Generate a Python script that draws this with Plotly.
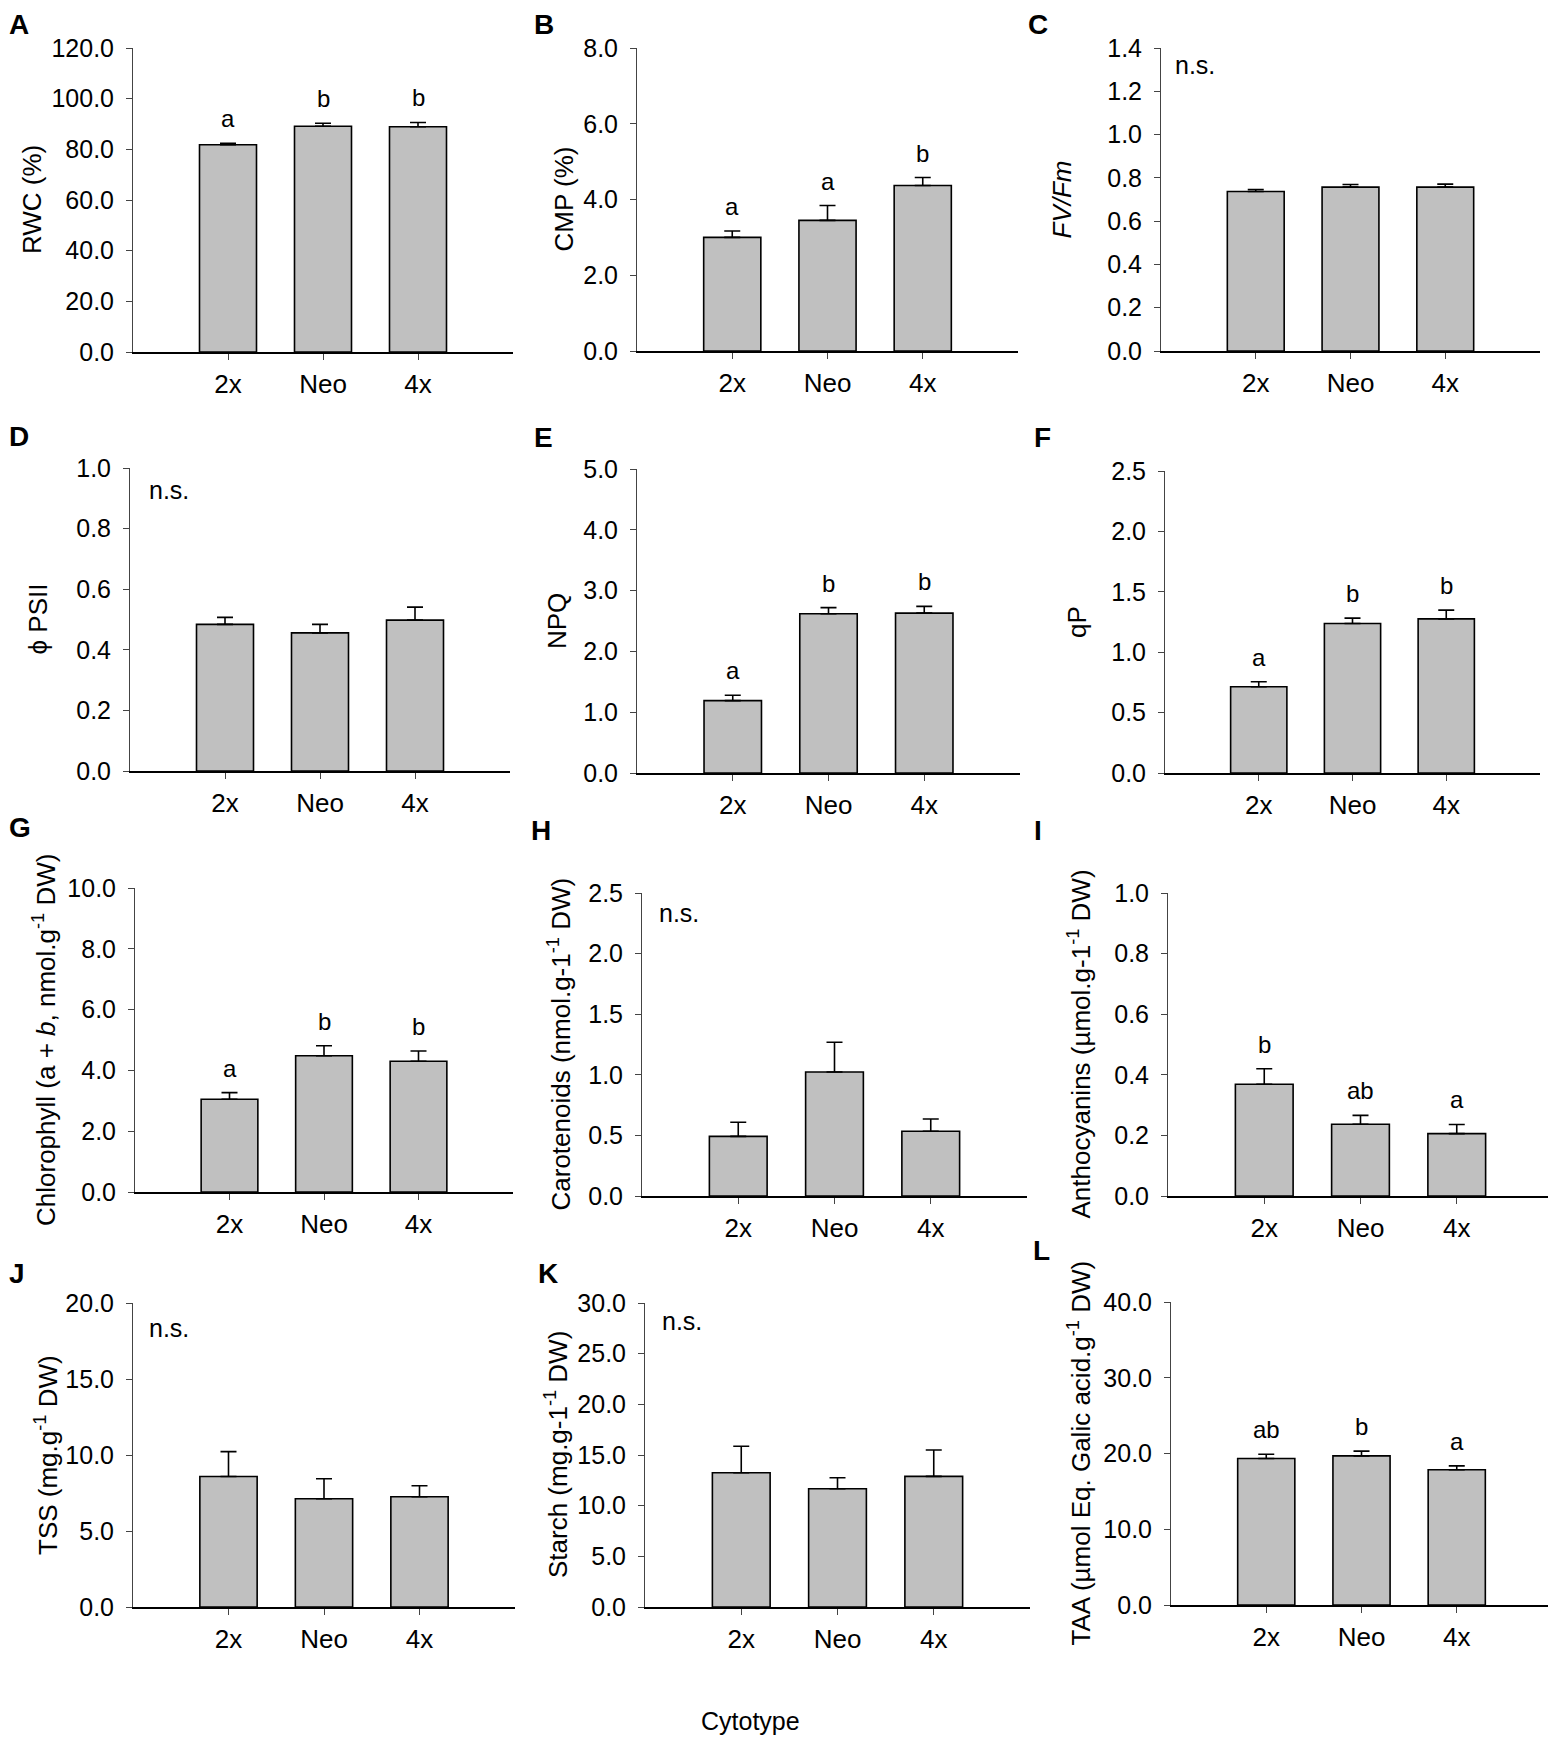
import plotly.graph_objects as go

# page is 1556 x 1738, the page body adds an 8 px margin round the figure
PAGE_OFF = 8
W, H = 1548, 1730

cytotypes = ["2x", "Neo", "4x"]

rwc = [81.8, 89.1, 88.9]
rwc_se = [0.6, 1.2, 1.7]
cmp_ = [3.00, 3.45, 4.37]
cmp_se = [0.17, 0.39, 0.21]
fvfm = [0.737, 0.757, 0.757]
fvfm_se = [0.009, 0.012, 0.014]
phipsii = [0.484, 0.456, 0.498]
phipsii_se = [0.023, 0.028, 0.043]
npq = [1.19, 2.62, 2.63]
npq_se = [0.09, 0.10, 0.11]
qp = [0.714, 1.238, 1.276]
qp_se = [0.041, 0.044, 0.072]
chl = [3.05, 4.48, 4.30]
chl_se = [0.22, 0.33, 0.34]
carot = [0.492, 1.023, 0.534]
carot_se = [0.116, 0.245, 0.101]
antho = [0.369, 0.237, 0.206]
antho_se = [0.051, 0.029, 0.030]
tss = [8.59, 7.12, 7.25]
tss_se = [1.63, 1.32, 0.73]
starch = [13.25, 11.67, 12.89]
starch_se = [2.61, 1.09, 2.61]
taa = [19.34, 19.69, 17.85]
taa_se = [0.57, 0.62, 0.52]

NORMAL = "Liberation Sans, Arial"


def px(x):
    return max(x - PAGE_OFF, 0) / W


def py(y):
    return min(1 - (y - PAGE_OFF) / H, 1)


# letter, values, errors, y max, y step, title, sig letters, title x, box (x0, x1, top, bottom) in page px
panels = [
    ("A", rwc, rwc_se, 120, 20, "RWC (%)", ["a", "b", "b"], 32, (133, 513, 48, 352)),
    ("B", cmp_, cmp_se, 8, 2, "CMP (%)", ["a", "a", "b"], 563, (637, 1018, 48, 351)),
    ("C", fvfm, fvfm_se, 1.4, 0.2, "<i>FV/Fm</i>", None, 1061, (1161, 1540, 48, 351)),
    ("D", phipsii, phipsii_se, 1.0, 0.2, "ϕ PSII", None, 37, (130, 510, 468, 771)),
    ("E", npq, npq_se, 5, 1, "NPQ", ["a", "b", "b"], 557, (637, 1020, 469, 773)),
    ("F", qp, qp_se, 2.5, 0.5, "qP", ["a", "b", "b"], 1077, (1165, 1540, 471, 773)),
    ("G", chl, chl_se, 10, 2, "Chlorophyll (a + <i>b</i>, nmol.g<sup>-1</sup> DW)", ["a", "b", "b"], 44,
     (135, 513, 888, 1192)),
    ("H", carot, carot_se, 2.5, 0.5, "Carotenoids (nmol.g-1<sup>-1</sup> DW)", None, 560,
     (642, 1027, 893, 1196)),
    ("I", antho, antho_se, 1.0, 0.2, "Anthocyanins (µmol.g-1<sup>-1</sup> DW)", ["b", "ab", "a"], 1080,
     (1168, 1553, 893, 1196)),
    ("J", tss, tss_se, 20, 5, "TSS (mg.g<sup>-1</sup> DW)", None, 46, (133, 515, 1303, 1607)),
    ("K", starch, starch_se, 30, 5, "Starch (mg.g-1<sup>-1</sup> DW)", None, 556, (645, 1030, 1303, 1607)),
    ("L", taa, taa_se, 40, 10, "TAA (µmol Eq. Galic acid.g<sup>-1</sup> DW)", ["ab", "b", "a"], 1080,
     (1171, 1552, 1302, 1605)),
]

# panel letters: left edge and glyph centre, page px (None = pin to the top edge)
letter_pos = {
    "A": (0, None), "B": (533, None), "C": (1027, None),
    "D": (0, 436), "E": (533, 437), "F": (1033, 437),
    "G": (0, 827), "H": (530, 831), "I": (1033, 831),
    "J": (0, 1273), "K": (537, 1273), "L": (1032, 1250),
}

# n.s. label offsets from the axes corner (px right, px down to text centre)
ns_pos = {"C": (12, 17), "D": (17, 22), "H": (15, 20), "J": (14, 25), "K": (15, 18)}

fig = go.Figure()
annotations = []

for i, (lab, vals, errs, ymax, step, title, sig, tx, box) in enumerate(panels):
    n = i + 1
    xa = "x" if n == 1 else f"x{n}"
    ya = "y" if n == 1 else f"y{n}"
    x0, x1, top, bot = box

    fig.add_trace(go.Bar(
        x=cytotypes, y=vals, xaxis=xa, yaxis=ya, width=0.6,
        marker=dict(color="#c0c0c0", line=dict(color="black", width=1.6)),
        error_y=dict(type="data", array=errs, symmetric=False, arrayminus=[0, 0, 0],
                     color="black", thickness=1.6, width=8),
        showlegend=False,
    ))

    fig.layout[f"xaxis{n if n > 1 else ''}"] = dict(
        domain=[px(x0), min(px(x1), 1)], anchor=ya, type="category", range=[-1, 3],
        showline=True, linecolor="black", linewidth=2, ticks="outside", ticklen=6,
        tickcolor="#444", tickwidth=1, ticklabelstandoff=2, showgrid=False, zeroline=False,
        tickfont=dict(family=NORMAL, size=26, color="black"), automargin=False,
    )
    fig.layout[f"yaxis{n if n > 1 else ''}"] = dict(
        domain=[py(bot), py(top)], anchor=xa, range=[0, ymax],
        tick0=0, dtick=step, tickformat=".1f",
        showline=True, linecolor="#444", linewidth=1, ticks="outside", ticklen=6,
        tickcolor="#444", tickwidth=1, ticklabelstandoff=7, showgrid=False, zeroline=False,
        tickfont=dict(family=NORMAL, size=25, color="black"), automargin=False,
    )

    # y-axis title
    annotations.append(dict(
        text=title, xref="paper", yref="paper", x=px(tx), y=py((top + bot) / 2),
        xanchor="center", yanchor="middle", textangle=-90, showarrow=False,
        font=dict(family=NORMAL, size=26, color="black"),
    ))

    # panel letter
    lx, ly = letter_pos[lab]
    annotations.append(dict(
        text=f"<b>{lab}</b>", xref="paper", yref="paper", x=px(lx),
        y=1 if ly is None else py(ly),
        xanchor="left", yanchor="top" if ly is None else "middle",
        showarrow=False, borderpad=0,
        font=dict(family=NORMAL, size=28, color="black"),
    ))

    if sig is None:
        dx, dy = ns_pos[lab]
        annotations.append(dict(
            text="n.s.", xref="paper", yref="paper",
            x=px(x0 + dx), y=py(top + dy), xanchor="left", yanchor="middle",
            showarrow=False, font=dict(family=NORMAL, size=25, color="black"),
        ))
    else:
        for c, v, e, s in zip(cytotypes, vals, errs, sig):
            annotations.append(dict(
                text=s, xref=xa, yref=ya, x=c, y=v + e, xanchor="center", yanchor="bottom",
                yshift=9, showarrow=False, font=dict(family=NORMAL, size=24, color="black"),
            ))

annotations.append(dict(
    text="Cytotype", xref="paper", yref="paper", x=px(750), y=py(1721),
    xanchor="center", yanchor="middle", showarrow=False,
    font=dict(family=NORMAL, size=25, color="black"),
))

fig.update_layout(
    width=W, height=H, margin=dict(l=0, r=0, t=0, b=0, pad=0, autoexpand=False),
    paper_bgcolor="white", plot_bgcolor="white",
    annotations=annotations, bargap=0.4,
    font=dict(family=NORMAL, color="black"),
)

fig.write_html("out.html")
